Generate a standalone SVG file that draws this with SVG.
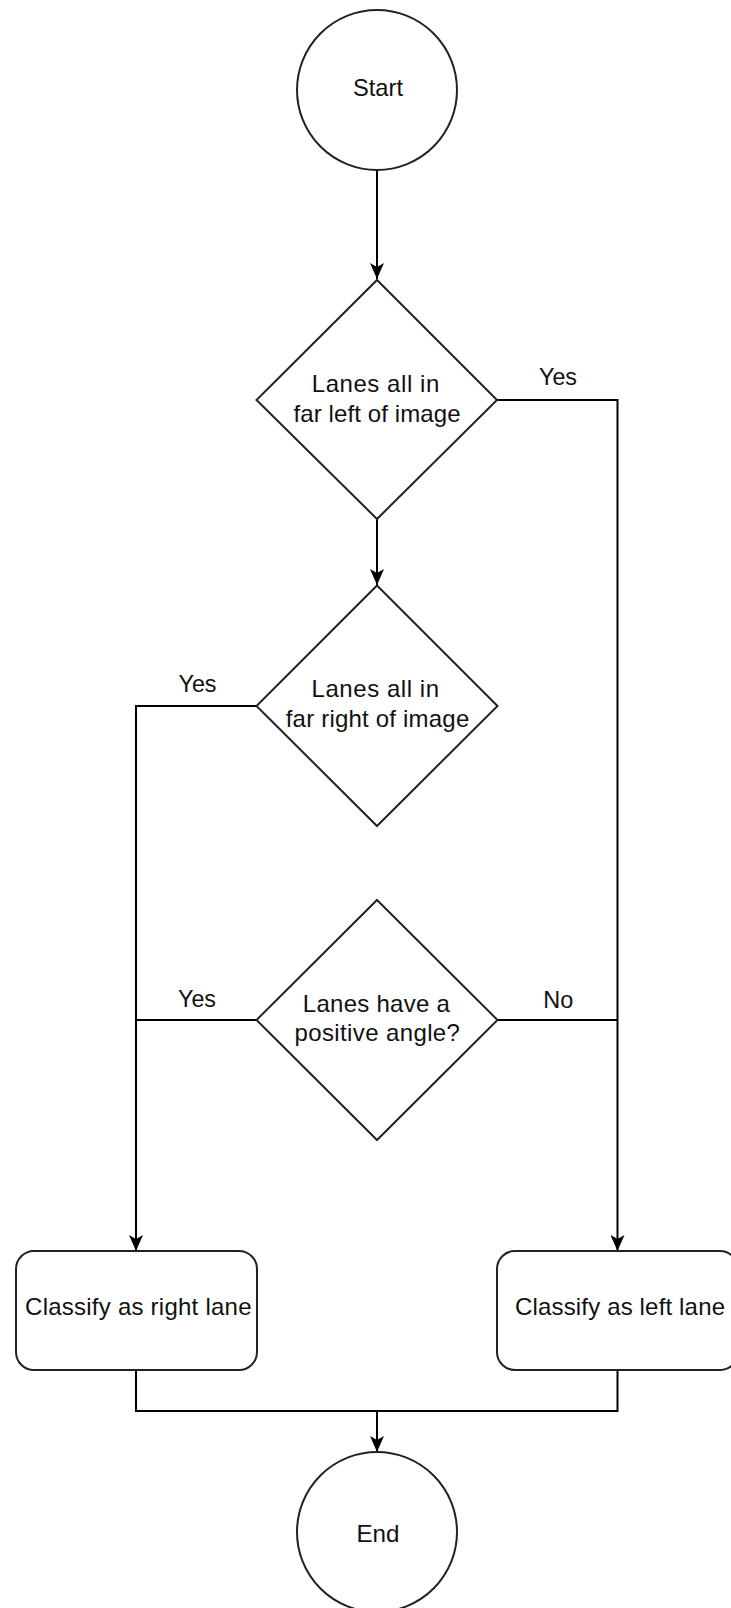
<svg xmlns="http://www.w3.org/2000/svg" width="731" height="1608" viewBox="0 0 731 1608">
<style>
.shape{fill:#fff;stroke:#222;stroke-width:2}
.conn{fill:none;stroke:#000;stroke-width:2}
.t{font-family:"Liberation Sans",Arial,sans-serif;font-size:24px;fill:#111;text-anchor:middle}
</style>
<defs>
<marker id="arr" viewBox="0 -7 16 14" refX="16" refY="0" markerWidth="16" markerHeight="14" markerUnits="userSpaceOnUse" orient="auto">
<path d="M0,-7 L16,0 L0,7 L4,0 Z" fill="#000"/>
</marker>
</defs>
<rect width="731" height="1608" fill="#fff"/>
<g id="connectors">
<path class="conn" d="M377,170 L377,279" marker-end="url(#arr)"/>
<path class="conn" d="M497,400 L617.5,400 L617.5,1251" marker-end="url(#arr)"/>
<path class="conn" d="M377,519 L377,585" marker-end="url(#arr)"/>
<path class="conn" d="M256.5,706 L136,706 L136,1251" marker-end="url(#arr)"/>
<path class="conn" d="M256.5,1020 L136,1020"/>
<path class="conn" d="M497.5,1020 L617.5,1020"/>
<path class="conn" d="M136,1370 L136,1411 L377,1411 L377,1452" marker-end="url(#arr)"/>
<path class="conn" d="M617.5,1370 L617.5,1411 L377,1411"/>
<text class="t" x="558" y="385" textLength="38" lengthAdjust="spacingAndGlyphs">Yes</text>
<text class="t" x="197.5" y="692" textLength="38" lengthAdjust="spacingAndGlyphs">Yes</text>
<text class="t" x="197" y="1007" textLength="38" lengthAdjust="spacingAndGlyphs">Yes</text>
<text class="t" x="558.3" y="1007.5" textLength="30" lengthAdjust="spacingAndGlyphs">No</text>
</g>
<g id="start">
<circle class="shape" cx="377" cy="90" r="80"/>
<text class="t" x="378" y="96" textLength="50" lengthAdjust="spacingAndGlyphs">Start</text>
</g>
<g id="decision-left">
<path class="shape" d="M377,280 L497,400 L377,519 L256.5,400 Z"/>
<text class="t" x="375.5" y="392" textLength="127.5" lengthAdjust="spacing">Lanes all in</text>
<text class="t" x="377" y="421.5" textLength="167" lengthAdjust="spacing">far left of image</text>
</g>
<g id="decision-right">
<path class="shape" d="M377,585.5 L497.5,706 L377,826 L256.5,706 Z"/>
<text class="t" x="375.3" y="697" textLength="127.5" lengthAdjust="spacing">Lanes all in</text>
<text class="t" x="377.5" y="727" textLength="183.5" lengthAdjust="spacing">far right of image</text>
</g>
<g id="decision-angle">
<path class="shape" d="M377,900 L497.5,1020 L377,1140 L256.5,1020 Z"/>
<text class="t" x="376.3" y="1011.5" textLength="147" lengthAdjust="spacing">Lanes have a</text>
<text class="t" x="377.2" y="1041" textLength="165.5" lengthAdjust="spacing">positive angle?</text>
</g>
<g id="classify-right">
<rect class="shape" x="16" y="1251" width="241" height="119" rx="18" ry="18"/>
<text class="t" x="138.3" y="1314.5" textLength="226.5" lengthAdjust="spacing">Classify as right lane</text>
</g>
<g id="classify-left">
<rect class="shape" x="497" y="1251" width="241" height="119" rx="18" ry="18"/>
<text class="t" x="620" y="1314.5" textLength="210" lengthAdjust="spacing">Classify as left lane</text>
</g>
<g id="end">
<circle class="shape" cx="377" cy="1532" r="80"/>
<text class="t" x="378" y="1541.5" textLength="43" lengthAdjust="spacingAndGlyphs">End</text>
</g>
</svg>
